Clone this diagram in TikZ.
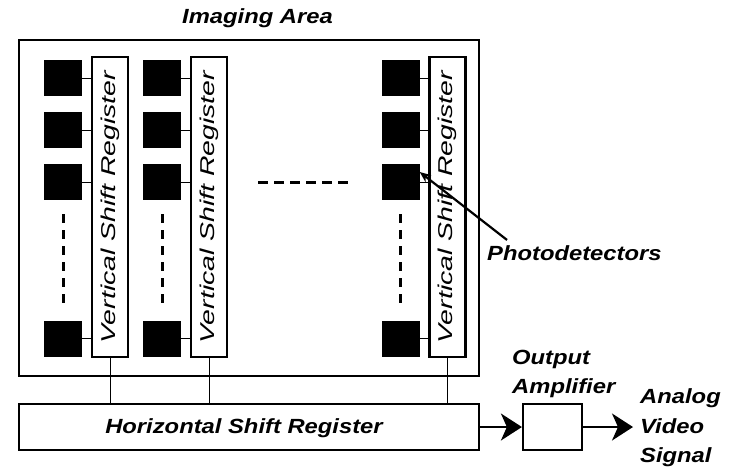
\documentclass[tikz,border=0pt]{standalone}
\usepackage{fontspec}
\setmainfont{Liberation Sans}
\newfontfamily\etichetta[FakeStretch=1.16]{Liberation Sans}
\newfontfamily\etichettav[FakeStretch=1.42]{Liberation Sans}
\usetikzlibrary{arrows.meta,positioning}

\begin{document}
\begin{tikzpicture}[x=1pt, y=-1pt,
    lbl/.style={font=\etichetta\fontsize{20.5}{29.5}\selectfont\bfseries\itshape, inner sep=0pt},
    cella/.style={fill=black, minimum width=38pt, minimum height=36pt, inner sep=0pt},
    vreg/.style={draw, line width=2.2pt, rotate=90, minimum width=300pt, minimum height=36pt, inner sep=0pt,
        font=\etichettav\fontsize{20}{24}\selectfont\itshape},
    hreg/.style={draw, line width=2.2pt, minimum width=460pt, minimum height=46pt, inner sep=0pt},
    filo/.style={line width=1pt},
    punti/.style={line width=3pt, dash pattern=on 9pt off 7pt},
    freccia/.style={line width=2pt, -{Stealth[length=21pt, width=27pt, inset=6pt]}}]
    \useasboundingbox (0,0) rectangle (735,467);

    % 1. Riquadro esterno (Imaging Area)
    \draw[line width=2.4pt] (19,40) rectangle (479,376);
    \node[lbl, anchor=base] (titolo) at (257.5,23) {Imaging Area};

    % 2. Colonne: fotodiodi + registri verticali
    \foreach \c/\x in {1/63, 2/162, 3/400.5} {
        \node[vreg] (v\c) at (\x+47,207) {Vertical Shift Register};
        \foreach \r/\y in {1/78, 2/130, 3/182, 4/338.5} {
            \node[cella] (s\c\r) at (\x,\y) {};
            \draw[filo] (s\c\r.east) -- (s\c\r.east -| v\c.north);
        }
        % puntini verticali
        \draw[punti] (\x,214) -- (\x,305);
    }

    % 3. Puntini orizzontali tra le colonne
    \draw[punti, dash pattern=on 10pt off 6pt] (258,182) -- (350,182);

    % 4. Registro orizzontale
    \node[hreg] (hsr) at (249,427) {};
    \node[lbl, anchor=base] (hsrlbl) at (244,433) {Horizontal Shift Register};
    \foreach \c in {1,2,3}
        \draw[filo] (v\c.west) -- (v\c.west |- hsr.north);

    % 5. Amplificatore di uscita
    \node[draw, line width=2.2pt, minimum width=59pt, minimum height=46pt, inner sep=0pt] (amp) at (552.5,427) {};
    \node[lbl, align=left, anchor=south west] (amplbl) at (512,398) {Output\\Amplifier};
    \coordinate (uscita) at (633,427);
    \draw[freccia] (hsr.east) -- (amp.west);
    \draw[freccia] (amp.east) -- (uscita);
    \node[lbl, align=left, anchor=west] (video) at (640,428) {Analog\\Video\\Signal};

    % 6. Etichetta fotodiodi
    \node[lbl, anchor=base west] (fotod) at (487,260) {Photodetectors};
    \draw[line width=2.2pt, -{Stealth[length=11pt, width=9pt]}] ([xshift=20pt,yshift=5pt]fotod.north west) -- ([yshift=10pt]s33.east);

\end{tikzpicture}
\end{document}
